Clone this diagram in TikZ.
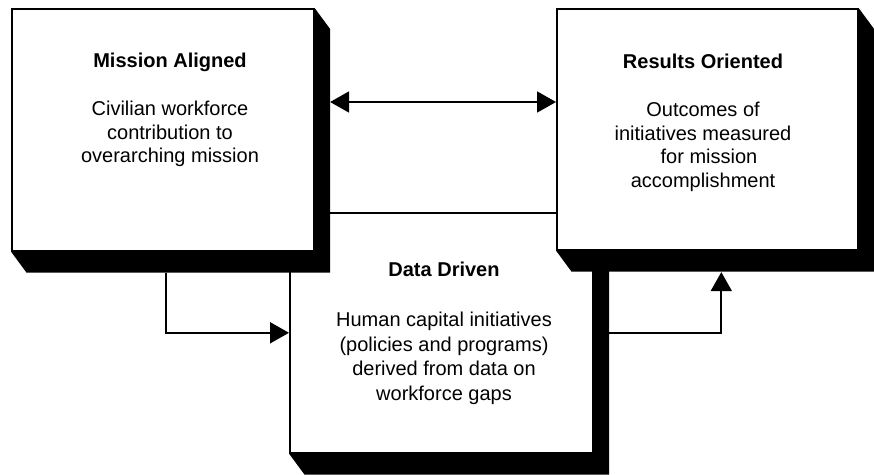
\documentclass[tikz,border=0pt]{standalone}
\usepackage{fontspec}
\setmainfont{Liberation Sans}
\usetikzlibrary{arrows.meta}
\tikzset{
  panel/.style={draw=black, line width=1.6pt, fill=white, rectangle, anchor=north west, inner sep=0pt},
  boxtext/.style={align=center, font=\fontsize{20}{23.8}\selectfont, inner sep=0pt, anchor=base},
  tiphead/.tip={Triangle[length=19pt,width=21pt]},
  conn/.style={line width=1.8pt, -tiphead},
  dconn/.style={line width=1.8pt, tiphead-tiphead},
}
\newcommand\dropshade[1]{%
  \fill[black] (#1.north east) -- ++(15.5,21) -- ([shift={(15.5,21)}]#1.south east)
    -- ([shift={(15.5,21)}]#1.south west) -- (#1.south west) -- (#1.south east) -- cycle;}
\begin{document}
\begin{tikzpicture}[x=1pt,y=-1pt]
\useasboundingbox (0,0) rectangle (874,474);
% Data Driven (behind)
\node[panel, minimum width=303pt, minimum height=240pt] (data) at (289,212) {};
\dropshade{data}
% Mission Aligned
\node[panel, minimum width=302pt, minimum height=242pt] (mission) at (11,8) {};
\dropshade{mission}
% Results Oriented
\node[panel, minimum width=301pt, minimum height=241pt] (results) at (556,8) {};
\dropshade{results}
% texts (anchored at the baseline of their last line)
\node[boxtext] (mtext) at (170,162.8) {\textbf{Mission Aligned}\\[23.8pt]Civilian workforce\\contribution to\hspace*{18pt}\\overarching mission};
\node[boxtext] (rtext) at (703,187.6) {\textbf{Results Oriented}\\[23.8pt]Outcomes of\\initiatives measured\\\hspace*{12pt}for mission\\accomplishment};
\node[boxtext, font=\fontsize{20}{24.4}\selectfont] (dtext) at (444,400) {\textbf{Data Driven}\\[25.6pt]Human capital initiatives\\(policies and programs)\\derived from data on\\workforce gaps};
% connectors
\draw[dconn] ([shift={(15.5,94)}]mission.north east) -- ([shift={(0,94)}]results.north west);
\draw[conn] ([shift={(3,21.5)}]mission.south) |- (data.west);
\draw[conn] ([shift={(15.5,0)}]data.east) -| ([shift={(14,21.5)}]results.south);
\end{tikzpicture}
\end{document}
